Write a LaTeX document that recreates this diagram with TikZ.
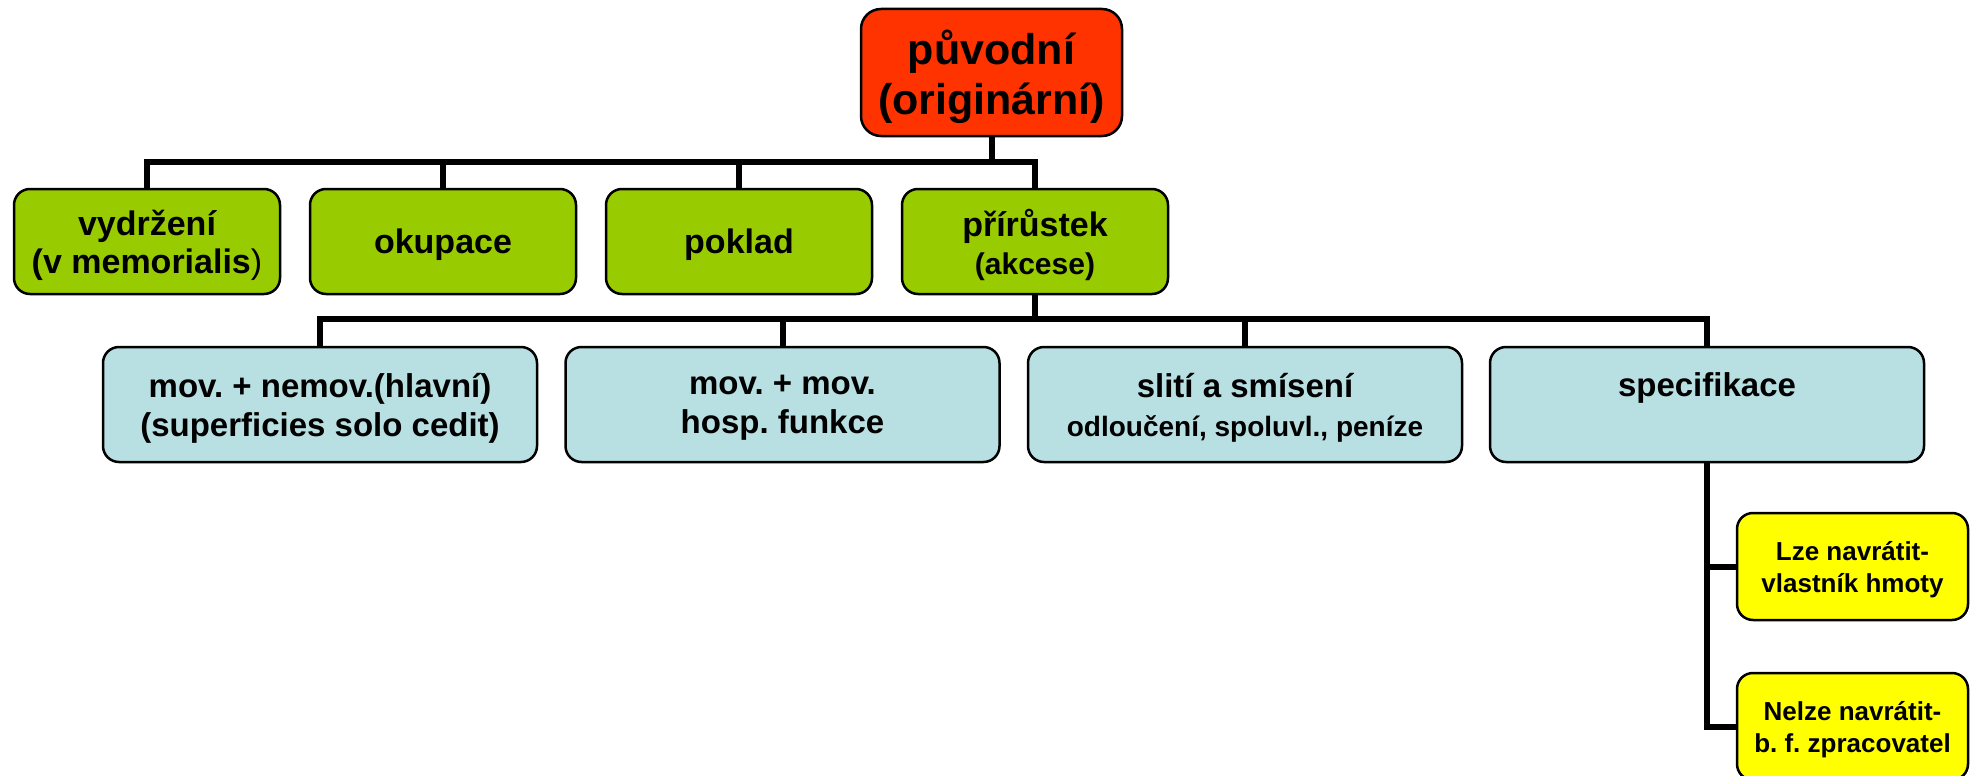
\documentclass[tikz,border=0pt]{standalone}
\usepackage{fontspec}
\setmainfont{Liberation Sans}
\frenchspacing
\definecolor{rootred}{RGB}{255,51,0}
\definecolor{mainggreen}{RGB}{153,204,0}
\definecolor{subblue}{RGB}{184,223,226}
\definecolor{leafyellow}{RGB}{255,255,0}

\begin{document}
\begin{tikzpicture}[x=1pt, y=-1pt,
        rootbox/.style={rectangle, rounded corners=20pt, draw=black, line width=2.5pt, fill=rootred, minimum width=261pt, minimum height=127pt, inner sep=0pt, text depth=0pt, align=center, font=\bfseries\fontsize{43}{50}\selectfont},
        mainbox/.style={rectangle, rounded corners=16pt, draw=black, line width=2.5pt, fill=mainggreen, minimum width=266pt, minimum height=105pt, inner sep=0pt, text depth=0pt, align=center, font=\bfseries\fontsize{34}{38}\selectfont},
        subbox/.style={rectangle, rounded corners=16pt, draw=black, line width=2.5pt, fill=subblue, minimum width=434pt, minimum height=115pt, inner sep=0pt, text depth=0pt, align=center, font=\bfseries\fontsize{33}{39}\selectfont},
        leafbox/.style={rectangle, rounded corners=16pt, draw=black, line width=2.5pt, fill=leafyellow, minimum width=231pt, minimum height=107pt, inner sep=0pt, text depth=0pt, align=center, font=\bfseries\fontsize{26}{32}\selectfont},
        link/.style={draw=black, line width=6pt}
    ]

\fill[white] (0,0) rectangle (1973,776);
\useasboundingbox (0,0) rectangle (1973,776);

% Root
\node[rootbox] (root) at (991.5,72.5) {původní\\(originární)};

% First level
\node[mainbox] (vydrzeni) at (147,241.5) {vydržení\\(v memorialis{\mdseries)}};
\node[mainbox] (okupace) at (443,241.5) {okupace};
\node[mainbox] (poklad) at (739,241.5) {poklad};
\node[mainbox] (prirustek) at (1035,241.5) {přírůstek\\{\fontsize{30}{36}\selectfont(akcese)}};

% Second level
\node[subbox] (movnemov) at (320,404.5) {mov. + nemov.(hlavní)\\(superficies solo cedit)};
\node[subbox] (movmov) at (782.5,404.5) {mov. + mov.\\hosp. funkce};
\node[subbox] (sliti) at (1245,404.5) {slití a smísení\\{\fontsize{28}{36}\selectfont odloučení, spoluvl., peníze}};
\node[subbox] (specifikace) at (1707,404.5) {specifikace\\~};

% Specifikace
\node[leafbox] (lze) at (1852.5,566.5) {Lze navrátit-\\vlastník hmoty};
\node[leafbox] (nelze) at (1852.5,726.5) {Nelze navrátit-\\b. f. zpracovatel};

% Connectors
\path (root.south) ++(0,25) coordinate (bus1);
\draw[link] (root.south) -- (bus1);
\foreach \n in {vydrzeni,okupace,poklad,prirustek}
    \draw[link] (bus1) -| (\n.north);

\path (prirustek.south) ++(0,24) coordinate (bus2);
\draw[link] (prirustek.south) -- (bus2);
\foreach \n in {movnemov,movmov,sliti,specifikace}
    \draw[link] (bus2) -| (\n.north);

\draw[link] (specifikace.south) |- (lze.west);
\draw[link] (specifikace.south) |- (nelze.west);

\end{tikzpicture}
\end{document}
